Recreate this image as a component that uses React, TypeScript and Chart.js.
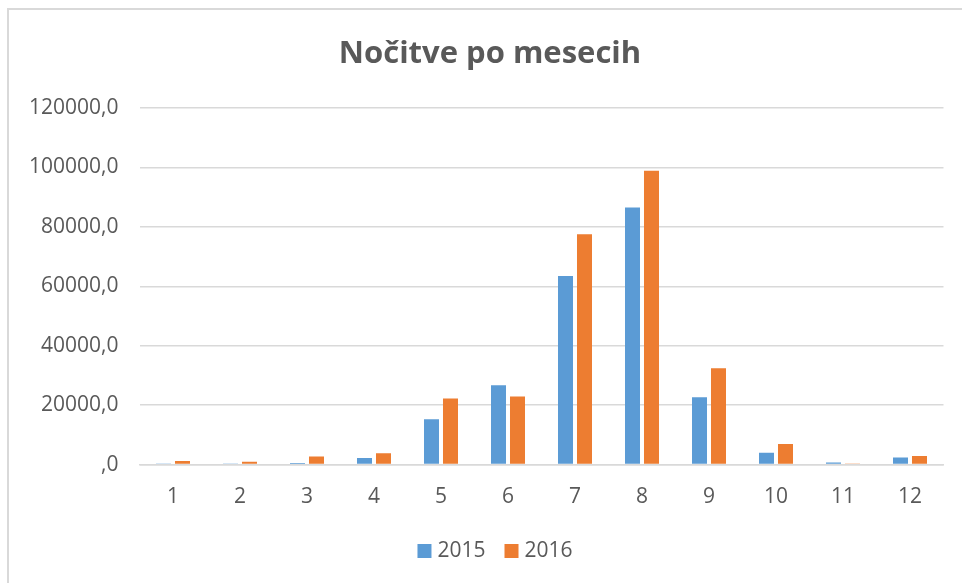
import React, { useEffect, useRef } from "react";
import { Chart, registerables } from "chart.js";

Chart.register(...registerables);

const months = ["1", "2", "3", "4", "5", "6", "7", "8", "9", "10", "11", "12"];
const series2015 = [400, 400, 500, 2200, 15300, 26700, 63500, 86500, 22700, 4000, 700, 2350];
const series2016 = [1200, 1000, 2700, 3800, 22250, 22900, 77500, 98900, 32400, 6950, 400, 2900];
const seriesLabels = ["2015", "2016"];
const seriesColors = ["#5B9BD5", "#ED7D31"];
const titleText = "Nočitve po mesecih";

const FONT = "'Open Sans', 'DejaVu Sans', sans-serif";
const TEXT = "#595959";

const titleAndLegend = {
  id: "titleAndLegend",
  afterDraw(chart: any) {
    const ctx = chart.ctx as CanvasRenderingContext2D;
    ctx.save();
    // title
    ctx.fillStyle = TEXT;
    ctx.font = `bold 31px ${FONT}`;
    ctx.textAlign = "center";
    ctx.textBaseline = "middle";
    ctx.fillText(titleText, 490, 54);
    // legend
    ctx.font = `21px ${FONT}`;
    ctx.textAlign = "left";
    const box = 14;
    const gap = 6;
    const between = 19;
    const widths = chart.data.datasets.map((d: any) => ctx.measureText(d.label).width);
    const total = widths.reduce((a: number, w: number) => a + box + gap + w, 0) + between * (widths.length - 1);
    let x = 495 - total / 2;
    const cy = 551;
    chart.data.datasets.forEach((d: any, i: number) => {
      ctx.fillStyle = d.backgroundColor;
      ctx.fillRect(x, cy - box / 2, box, box);
      x += box + gap;
      ctx.fillStyle = TEXT;
      ctx.fillText(d.label, x, cy);
      x += widths[i] + between;
    });
    ctx.restore();
  },
};

export default function App() {
  const ref = useRef<HTMLCanvasElement | null>(null);
  useEffect(() => {
    if (!ref.current) return;
    const chart = new Chart(ref.current, {
      type: "bar",
      data: {
        labels: months,
        datasets: [
          { label: seriesLabels[0], data: series2015, backgroundColor: seriesColors[0], borderWidth: 0 },
          { label: seriesLabels[1], data: series2016, backgroundColor: seriesColors[1], borderWidth: 0 },
        ],
      },
      plugins: [titleAndLegend],
      options: {
        animation: false,
        responsive: false,
        maintainAspectRatio: false,
        datasets: { bar: { categoryPercentage: 0.567, barPercentage: 0.79 } },
        layout: { padding: { left: 8, right: 18.5, top: 108, bottom: 53.2 } },
        plugins: {
          title: { display: false },
          legend: { display: false },
          tooltip: { enabled: false },
        },
        scales: {
          x: {
            grid: { display: false, drawTicks: false },
            border: { display: true, color: "#d9d9d9", width: 1.5 },
            ticks: { color: TEXT, font: { family: FONT, size: 21 }, padding: 20 },
          },
          y: {
            min: 0,
            max: 120000,
            afterFit: (s: any) => {
              s.width = 131.5;
            },
            grid: { color: "#d9d9d9", lineWidth: 1.5, drawTicks: false },
            border: { display: false },
            ticks: {
              stepSize: 20000,
              color: TEXT,
              font: { family: FONT, size: 21 },
              padding: 21,
              callback: (v: any) => {
                const n = Number(v);
                return n === 0 ? ",0" : n.toFixed(0) + ",0";
              },
            },
          },
        },
      },
    });
    return () => chart.destroy();
  }, []);
  return (
    <div style={{ position: "fixed", left: 0, top: 0, width: 962, height: 583, background: "#fff", overflow: "hidden" }}>
      <div
        style={{
          position: "absolute",
          left: 7,
          top: 8,
          width: 1000,
          height: 700,
          borderLeft: "2px solid #d9d9d9",
          borderTop: "2px solid #d9d9d9",
        }}
      />
      <canvas ref={ref} width={962} height={583} style={{ position: "absolute", left: 0, top: 0 }} />
    </div>
  );
}
